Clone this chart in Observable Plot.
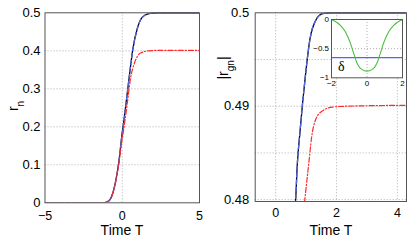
<!DOCTYPE html>
<html><head><meta charset="utf-8">
<script src="https://cdn.jsdelivr.net/npm/d3@7"></script>
<script src="https://cdn.jsdelivr.net/npm/@observablehq/plot@0.6"></script>
<style>
html,body{margin:0;padding:0;background:#fff;}
#wrap{position:relative;width:415px;height:240px;overflow:hidden;background:#fff;}
</style></head><body><div id="wrap"></div>
<script>
// ---------- Left panel: r_n vs Time T ----------
const leftT_black = [-5, -1.3, -1.0, -0.76, -0.44, -0.22, -0.05, 0.15, 0.32, 0.49, 0.69, 0.97, 1.29, 1.72, 2.2, 5];
const leftR_black = [0, 0, 0.002, 0.0105, 0.054, 0.107, 0.168, 0.23, 0.287, 0.344, 0.405, 0.458, 0.488, 0.498, 0.5, 0.5];
const leftT_blue  = [-5, -1.3, -1.0, -0.76, -0.44, -0.22, -0.05, 0.15, 0.32, 0.49, 0.69, 0.97, 1.29, 1.72, 2.2, 5];
const leftR_blue  = [0, 0, 0.002, 0.0105, 0.054, 0.107, 0.168, 0.23, 0.287, 0.344, 0.405, 0.458, 0.488, 0.498, 0.5, 0.5];
const leftT_red   = [-5, -1.3, -1.0, -0.76, -0.44, -0.22, -0.05, 0.12, 0.32, 0.53, 0.81, 1.18, 1.72, 2.3, 5];
const leftR_red   = [0, 0, 0.002, 0.0105, 0.053, 0.104, 0.155, 0.2, 0.26, 0.326, 0.37, 0.394, 0.4, 0.401, 0.401];
const leftXTicks = [-5, 0, 5];
const leftYTicks = [0, 0.1, 0.2, 0.3, 0.4, 0.5];

// ---------- Right panel: |r_gn| vs Time T ----------
const rightT_black = [0.55, 0.66, 0.71, 0.80, 0.88, 0.99, 1.13, 1.32, 1.54, 1.8, 4.4];
const rightR_black = [0.4772, 0.4801, 0.4836, 0.4872, 0.4901, 0.4936, 0.4972, 0.4992, 0.4999, 0.5, 0.5];
const rightT_blue  = [0.55, 0.66, 0.71, 0.80, 0.88, 0.99, 1.13, 1.32, 1.54, 1.8, 4.4];
const rightR_blue  = [0.4772, 0.4801, 0.4836, 0.4872, 0.4901, 0.4936, 0.4972, 0.4992, 0.4999, 0.5, 0.5];
const rightT_red   = [0.88, 0.96, 1.10, 1.18, 1.32, 1.54, 1.86, 2.3, 4.4];
const rightR_red   = [0.4775, 0.4800, 0.4842, 0.4866, 0.4886, 0.4895, 0.4899, 0.4900, 0.4901];
const rightXTicks = [0, 2, 4];
const rightYTicks = [0.48, 0.49, 0.5];
const rightYGrid  = [0.48, 0.485, 0.49, 0.495];

// ---------- Inset: delta ----------
const insetT_green = [-2, -1.87, -1.5, -1.22, -0.93, -0.74, -0.56, -0.28, 0, 0.28, 0.56, 0.74, 0.93, 1.22, 1.5, 1.87, 2];
const insetD_green = [0, -0.02, -0.10, -0.21, -0.41, -0.59, -0.75, -0.86, -0.885, -0.86, -0.75, -0.59, -0.41, -0.21, -0.10, -0.02, 0];
const insetT_blue  = [-2, 2];
const insetD_blue  = [-0.655, -0.655];
const insetXTicks = [-2, 0, 2];
const insetYTicks = [-1, -0.5, 0];

const zipTR = (T, R) => T.map((t, i) => ({t, r: R[i]}));
const FONT = "'Liberation Sans', Arial, Helvetica, sans-serif";
const BLUE = "#4f66f0", RED = "#ff2a2a", GREEN = "#4cbf3c", FRAME = "#555";
const GRID = {stroke: "#9a9a9a", strokeOpacity: 1, strokeDasharray: "1,2", strokeWidth: 0.8};
const wrap = document.getElementById("wrap");

function place(svg, left, top) {
  svg.style.position = "absolute";
  svg.style.left = left + "px";
  svg.style.top = top + "px";
  svg.style.overflow = "visible";
  wrap.appendChild(svg);
}

function curves(bk, bl, rd) {
  return [
    Plot.line(bk, {x: "t", y: "r", stroke: "#000", strokeWidth: 1.3, curve: "monotone-x", clip: true}),
    Plot.line(bl, {x: "t", y: "r", stroke: BLUE, strokeWidth: 1.3, strokeDasharray: "4,3", curve: "monotone-x", clip: true}),
    Plot.line(rd, {x: "t", y: "r", stroke: RED, strokeWidth: 1.2, strokeDasharray: "5,2,1.2,2", curve: "monotone-x", clip: true})
  ];
}

// Left plot
const left = Plot.plot({
  width: 207, height: 240,
  marginLeft: 44.5, marginRight: 8, marginTop: 12.3, marginBottom: 37.7,
  style: {fontFamily: FONT, fontSize: "13px", background: "transparent", color: "#000"},
  x: {domain: [-5, 5]},
  y: {domain: [0, 0.5]},
  marks: [
    Plot.gridX([0], GRID),
    Plot.gridY([0.1, 0.2, 0.3, 0.4], GRID),
    ...curves(zipTR(leftT_black, leftR_black), zipTR(leftT_blue, leftR_blue), zipTR(leftT_red, leftR_red)),
    Plot.frame({stroke: FRAME, strokeWidth: 1}),
    Plot.axisX(leftXTicks, {tickSize: 0, tickPadding: 8, label: null, fontSize: 12.5}),
    Plot.axisY(leftYTicks, {tickSize: 0, tickPadding: 4.5, label: null, fontSize: 13, tickFormat: d => d3.format("")(d)})
  ]
});
place(left, 0, 0);

// Right plot
const right = Plot.plot({
  width: 208, height: 240,
  marginLeft: 47.7, marginRight: 9, marginTop: 12.3, marginBottom: 39,
  style: {fontFamily: FONT, fontSize: "13px", background: "transparent", color: "#000"},
  x: {domain: [-0.67, 4.3]},
  y: {domain: [0.4798, 0.5]},
  marks: [
    Plot.gridX(rightXTicks, GRID),
    Plot.gridY(rightYGrid, GRID),
    ...curves(zipTR(rightT_black, rightR_black), zipTR(rightT_blue, rightR_blue), zipTR(rightT_red, rightR_red)),
    Plot.frame({stroke: FRAME, strokeWidth: 1}),
    Plot.axisX(rightXTicks, {tickSize: 0, tickPadding: 6.5, label: null, fontSize: 12.5}),
    Plot.axisY(rightYTicks, {tickSize: 0, tickPadding: 6, label: null, fontSize: 13, tickFormat: d => d3.format("")(d)})
  ]
});
place(right, 207, 0);

// Inset
const inset = Plot.plot({
  width: 105, height: 95,
  marginLeft: 26, marginRight: 8, marginTop: 14, marginBottom: 22.7,
  style: {fontFamily: FONT, fontSize: "8px", background: "transparent", color: "#000"},
  x: {domain: [-2, 2]},
  y: {domain: [-1, 0]},
  marks: [
    Plot.frame({fill: "white", stroke: null}),
    Plot.gridX([0], GRID),
    Plot.gridY([-0.5], GRID),
    Plot.line(zipTR(insetT_blue, insetD_blue), {x: "t", y: "r", stroke: BLUE, strokeWidth: 1.2}),
    Plot.line(zipTR(insetT_green, insetD_green), {x: "t", y: "r", stroke: GREEN, strokeWidth: 1.1, curve: "monotone-x"}),
    Plot.text(["δ"], {x: -1.45, y: -0.8, text: d => d, fontFamily: "'Liberation Serif', 'DejaVu Serif', serif", fontSize: 14}),
    Plot.frame({stroke: FRAME, strokeWidth: 1}),
    Plot.axisX(insetXTicks, {tickSize: 0, tickPadding: 3, label: null, fontSize: 8}),
    Plot.axisY(insetYTicks, {tickSize: 0, tickPadding: 2.5, label: null, fontSize: 8, tickFormat: d => d3.format("")(d)})
  ]
});
place(inset, 305, 5);

// Axis labels
function addText(svg, x, y, parts, rotate) {
  const t = d3.select(svg).append("text")
    .attr("font-family", FONT).attr("font-size", 14).attr("fill", "#000")
    .attr("text-anchor", "middle")
    .attr("transform", `translate(${x},${y})` + (rotate ? " rotate(-90)" : ""));
  parts.forEach(([s, sub]) => {
    const ts = t.append("tspan").text(s);
    if (sub) ts.attr("font-size", 10).attr("baseline-shift", "sub");
  });
}
addText(left, 122, 235, [["Time T"]]);
addText(left, 18, 106, [["r"], ["n", true]], true);
addText(right, 124, 235, [["Time T"]]);
addText(right, 21, 68, [["|r"], ["gn", true], ["|"]], true);
</script></body></html>
